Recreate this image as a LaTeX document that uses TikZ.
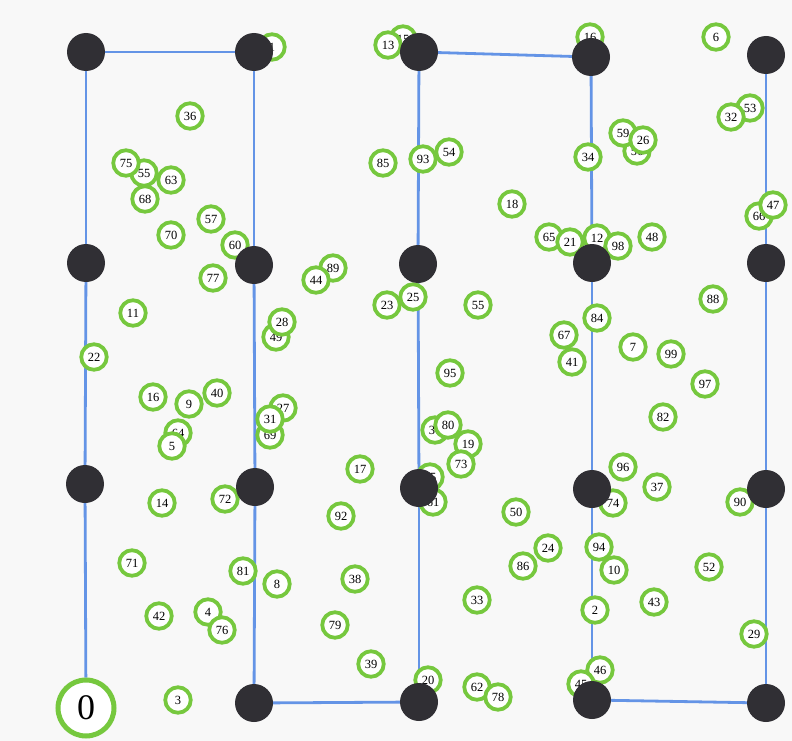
\documentclass[tikz,border=0pt]{standalone}
\usepackage{fontspec}
\setmainfont{Liberation Serif}
\pgfdeclarelayer{bg}
\pgfdeclarelayer{fg}
\pgfsetlayers{bg,main,fg}
\definecolor{ringgreen}{RGB}{118,200,62}
\definecolor{edgeblue}{RGB}{100,148,230}
\definecolor{nodeblack}{RGB}{48,47,52}
\definecolor{paper}{RGB}{248,248,248}
\tikzset{
  gn/.style={circle, draw=ringgreen, line width=3.8pt, fill=white, minimum size=25.5pt, inner sep=0pt, font=\fontsize{12.5}{12.5}\selectfont},
  bk/.style={circle, fill=nodeblack, minimum size=38pt, inner sep=0pt},
  big/.style={circle, draw=ringgreen, line width=5pt, fill=white, minimum size=56pt, inner sep=0pt, font=\fontsize{36}{36}\selectfont},
  edge/.style={draw=edgeblue, line width=2.8pt}
}
\begin{document}
\begin{tikzpicture}[x=1pt,y=-1pt]
\begin{pgfonlayer}{bg}
\fill[paper] (0,0) rectangle (792,741);
\end{pgfonlayer}
\useasboundingbox (0,0) rectangle (792,741);
% black grid nodes
\begin{pgfonlayer}{fg}
\node[bk] (b00) at (86,52) {};
\node[bk] (b01) at (86,263) {};
\node[bk] (b02) at (85,484) {};
\node[bk] (b10) at (254,52) {};
\node[bk] (b11) at (254,265) {};
\node[bk] (b12) at (255,487) {};
\node[bk] (b13) at (254,703) {};
\node[bk] (b20) at (419,52) {};
\node[bk] (b21) at (418,264) {};
\node[bk] (b22) at (419,488) {};
\node[bk] (b23) at (419,702) {};
\node[bk] (b30) at (591,57) {};
\node[bk] (b31) at (592,263) {};
\node[bk] (b32) at (592,489) {};
\node[bk] (b33) at (592,700) {};
\node[bk] (b40) at (766,55) {};
\node[bk] (b41) at (766,263) {};
\node[bk] (b42) at (766,489) {};
\node[bk] (b43) at (766,703) {};
\end{pgfonlayer}
% green nodes
\node[big] (g0) at (86,708) {0};
\node[gn] (g36) at (190,116) {36};
\node[gn] (g55) at (144,173) {55};
\node[gn] (g75) at (126,163) {75};
\node[gn] (g63) at (171,180) {63};
\node[gn] (g68) at (145,199) {68};
\node[gn] (g57) at (211,219) {57};
\node[gn] (g70) at (171,235) {70};
\node[gn] (g60) at (235,245) {60};
\node[gn] (g1) at (272,47) {1};
\node[gn] (g15) at (403,39) {15};
\node[gn] (g13) at (388,45) {13};
\node[gn] (g85) at (383,163) {85};
\node[gn] (g93) at (423,159) {93};
\node[gn] (g54) at (449,152) {54};
\node[gn] (g16a) at (590,37) {16};
\node[gn] (g34) at (588,157) {34};
\node[gn] (g18) at (512,204) {18};
\node[gn] (g65) at (549,237) {65};
\node[gn] (g21) at (570,242) {21};
\node[gn] (g12) at (597,238) {12};
\node[gn] (g98) at (618,246) {98};
\node[gn] (g48) at (652,237) {48};
\node[gn] (g6) at (716,37) {6};
\node[gn] (g53) at (750,108) {53};
\node[gn] (g32) at (731,117) {32};
\node[gn] (g56) at (637,151) {56};
\node[gn] (g59) at (623,133) {59};
\node[gn] (g26) at (643,140) {26};
\node[gn] (g66) at (759,216) {66};
\node[gn] (g47) at (773,205) {47};
\node[gn] (g77) at (213,278) {77};
\node[gn] (g11) at (133,313) {11};
\node[gn] (g22) at (94,357) {22};
\node[gn] (g16) at (153,397) {16};
\node[gn] (g9) at (189,404) {9};
\node[gn] (g40) at (217,393) {40};
\node[gn] (g64) at (178,433) {64};
\node[gn] (g5) at (172,446) {5};
\node[gn] (g14) at (162,503) {14};
\node[gn] (g72) at (225,499) {72};
\node[gn] (g89) at (333,268) {89};
\node[gn] (g44) at (316,280) {44};
\node[gn] (g49) at (276,337) {49};
\node[gn] (g28) at (282,322) {28};
\node[gn] (g23) at (387,305) {23};
\node[gn] (g25) at (413,297) {25};
\node[gn] (g27) at (283,408) {27};
\node[gn] (g69) at (270,435) {69};
\node[gn] (g31) at (270,419) {31};
\node[gn] (g17) at (360,469) {17};
\node[gn] (g55b) at (478,305) {55};
\node[gn] (g67) at (564,335) {67};
\node[gn] (g41) at (572,362) {41};
\node[gn] (g84) at (597,318) {84};
\node[gn] (g95) at (450,373) {95};
\node[gn] (g30) at (435,430) {30};
\node[gn] (g80) at (448,425) {80};
\node[gn] (g19) at (468,444) {19};
\node[gn] (g73) at (461,464) {73};
\node[gn] (g35) at (430,477) {35};
\node[gn] (g61) at (433,502) {61};
\node[gn] (g88) at (713,299) {88};
\node[gn] (g7) at (633,347) {7};
\node[gn] (g99) at (671,354) {99};
\node[gn] (g97) at (705,384) {97};
\node[gn] (g82) at (663,417) {82};
\node[gn] (g96) at (623,467) {96};
\node[gn] (g37) at (657,487) {37};
\node[gn] (g74) at (613,503) {74};
\node[gn] (g90) at (740,502) {90};
\node[gn] (g71) at (132,563) {71};
\node[gn] (g42) at (159,616) {42};
\node[gn] (g4) at (208,612) {4};
\node[gn] (g76) at (222,630) {76};
\node[gn] (g3) at (178,700) {3};
\node[gn] (g92) at (341,516) {92};
\node[gn] (g81) at (243,571) {81};
\node[gn] (g8) at (277,584) {8};
\node[gn] (g38) at (355,579) {38};
\node[gn] (g79) at (335,625) {79};
\node[gn] (g39) at (371,664) {39};
\node[gn] (g20) at (428,680) {20};
\node[gn] (g50) at (516,512) {50};
\node[gn] (g24) at (548,548) {24};
\node[gn] (g86) at (523,566) {86};
\node[gn] (g33) at (477,600) {33};
\node[gn] (g94) at (599,547) {94};
\node[gn] (g10) at (614,570) {10};
\node[gn] (g2) at (595,610) {2};
\node[gn] (g62) at (477,687) {62};
\node[gn] (g78) at (498,697) {78};
\node[gn] (g46) at (600,670) {46};
\node[gn] (g45) at (581,684) {45};
\node[gn] (g52) at (709,567) {52};
\node[gn] (g43) at (654,602) {43};
\node[gn] (g29) at (754,634) {29};
% blue serpentine path
\begin{pgfonlayer}{bg}
\draw[edge] (g0) -- (b02);
\draw[edge] (b02) -- (b01);
\draw[edge] (b01) -- (b00);
\draw[edge] (b00) -- (b10);
\draw[edge] (b10) -- (b11);
\draw[edge] (b11) -- (b12);
\draw[edge] (b12) -- (b13);
\draw[edge] (b13) -- (b23);
\draw[edge] (b23) -- (b22);
\draw[edge] (b22) -- (b21);
\draw[edge] (b21) -- (b20);
\draw[edge] (b20) -- (b30);
\draw[edge] (b30) -- (b31);
\draw[edge] (b31) -- (b32);
\draw[edge] (b32) -- (b33);
\draw[edge] (b33) -- (b43);
\draw[edge] (b43) -- (b42);
\draw[edge] (b42) -- (b41);
\draw[edge] (b41) -- (b40);
\end{pgfonlayer}
\end{tikzpicture}
\end{document}
